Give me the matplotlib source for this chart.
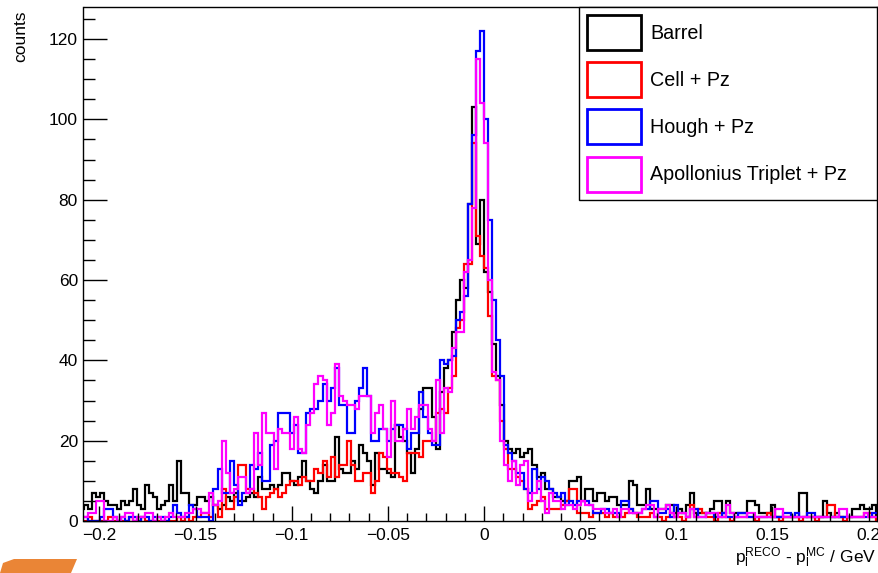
import numpy as np
import matplotlib
matplotlib.use("Agg")
import matplotlib.pyplot as plt
from matplotlib.patches import Patch, Polygon

plt.rcParams['font.family'] = ['Liberation Sans', 'DejaVu Sans']

# binning of the histograms
n_bins = 200
x_lo, x_hi = -0.21, 0.21

# counts per bin (bin 0 starts at -0.21)
barrel = [
    3, 4, 3, 7, 6, 7, 5, 4, 4, 3, 5, 4, 5, 8, 4, 3, 9, 7, 6, 3,
    4, 5, 9, 5, 15, 7, 7, 4, 4, 6, 6, 5, 6, 4, 3, 4, 6, 5, 7, 5,
    5, 6, 7, 6, 11, 8, 8, 9, 8, 9, 12, 12, 10, 9, 11, 15, 10, 8, 7, 10,
    14, 10, 10, 21, 13, 12, 12, 15, 13, 19, 17, 15, 9, 17, 13, 13, 12, 11, 24, 21,
    20, 17, 12, 18, 28, 33, 33, 26, 18, 32, 38, 40, 47, 55, 60, 58, 79, 103, 69, 80,
    62, 57, 44, 36, 29, 20, 18, 17, 18, 16, 17, 18, 14, 11, 12, 8, 8, 6, 6, 5,
    5, 10, 10, 11, 5, 8, 8, 5, 7, 7, 5, 6, 6, 4, 4, 4, 10, 9, 4, 4,
    8, 3, 3, 3, 3, 4, 4, 2, 3, 2, 4, 7, 2, 2, 2, 2, 3, 5, 5, 2,
    5, 2, 2, 2, 2, 5, 5, 4, 2, 2, 2, 4, 1, 1, 1, 1, 1, 1, 7, 7,
    1, 1, 1, 1, 5, 2, 1, 2, 1, 1, 1, 3, 3, 4, 3, 3, 4, 1, 2, 3,
]
cell_pz = [
    0, 0, 1, 0, 0, 0, 0, 1, 0, 0, 0, 0, 1, 0, 0, 1, 0, 0, 0, 0,
    0, 0, 0, 0, 1, 0, 1, 0, 1, 1, 2, 2, 1, 4, 1, 8, 3, 3, 6, 14,
    14, 8, 8, 7, 6, 3, 6, 7, 8, 6, 7, 9, 10, 10, 9, 11, 10, 10, 13, 12,
    15, 11, 16, 11, 14, 14, 20, 14, 10, 10, 12, 12, 7, 10, 17, 16, 13, 12, 12, 11,
    10, 17, 17, 17, 16, 20, 20, 20, 27, 28, 27, 33, 36, 48, 50, 64, 64, 94, 71, 66,
    63, 51, 36, 35, 25, 18, 13, 13, 11, 10, 8, 3, 4, 5, 6, 3, 3, 3, 3, 4,
    5, 8, 8, 2, 2, 2, 1, 2, 2, 2, 1, 2, 1, 1, 1, 2, 3, 2, 1, 1,
    1, 2, 1, 1, 0, 1, 2, 1, 1, 0, 1, 4, 1, 3, 2, 1, 1, 0, 2, 1,
    1, 0, 1, 1, 1, 1, 1, 0, 1, 1, 2, 1, 1, 0, 1, 1, 1, 1, 0, 1,
    1, 1, 0, 1, 1, 4, 4, 1, 1, 0, 1, 1, 1, 1, 2, 2, 1, 0, 1, 1,
]
hough_pz = [
    1, 1, 0, 0, 0, 1, 3, 3, 1, 0, 1, 0, 1, 1, 0, 1, 1, 0, 1, 1,
    1, 0, 1, 4, 2, 1, 1, 4, 3, 1, 1, 1, 0, 8, 13, 7, 7, 15, 9, 4,
    7, 7, 14, 13, 17, 10, 10, 19, 20, 27, 27, 27, 22, 24, 17, 17, 27, 28, 28, 30,
    34, 30, 33, 38, 29, 29, 22, 22, 30, 33, 38, 31, 20, 20, 23, 23, 20, 23, 24, 24,
    23, 18, 22, 22, 32, 26, 22, 19, 19, 40, 39, 40, 41, 50, 52, 56, 79, 96, 117, 122,
    100, 75, 55, 45, 36, 19, 17, 15, 12, 12, 8, 7, 13, 8, 11, 10, 8, 7, 6, 7,
    4, 5, 4, 5, 5, 5, 4, 2, 2, 3, 3, 2, 2, 2, 5, 5, 3, 2, 2, 3,
    3, 5, 5, 2, 2, 3, 1, 4, 2, 2, 1, 3, 3, 1, 1, 2, 2, 1, 1, 2,
    1, 1, 1, 2, 2, 1, 1, 1, 1, 1, 1, 1, 1, 1, 2, 2, 1, 2, 1, 1,
    2, 2, 1, 1, 1, 1, 1, 1, 1, 1, 1, 1, 1, 1, 1, 1, 2, 2, 1, 1,
]
apollonius_pz = [
    1, 1, 2, 2, 5, 5, 0, 0, 1, 0, 1, 2, 2, 0, 1, 1, 2, 2, 0, 1,
    0, 1, 2, 1, 1, 1, 2, 2, 3, 3, 2, 2, 7, 4, 5, 20, 12, 7, 8, 11,
    11, 7, 8, 22, 14, 27, 22, 22, 13, 23, 22, 22, 18, 26, 18, 17, 24, 27, 34, 36,
    35, 24, 27, 39, 31, 30, 29, 29, 28, 31, 31, 31, 22, 27, 29, 23, 16, 30, 20, 20,
    23, 28, 23, 26, 29, 29, 23, 20, 35, 22, 33, 32, 43, 47, 47, 62, 65, 78, 115, 104,
    94, 60, 37, 35, 20, 14, 10, 15, 9, 14, 15, 5, 7, 10, 5, 2, 7, 5, 5, 3,
    4, 4, 3, 4, 5, 4, 4, 3, 3, 3, 2, 2, 3, 1, 3, 3, 2, 2, 2, 3,
    4, 4, 1, 3, 3, 4, 2, 1, 2, 2, 1, 3, 1, 1, 1, 2, 2, 2, 1, 1,
    4, 2, 1, 1, 1, 2, 2, 1, 1, 1, 1, 1, 3, 3, 1, 1, 1, 1, 1, 1,
    1, 1, 1, 1, 1, 1, 1, 1, 3, 3, 1, 1, 1, 1, 2, 1, 1, 1, 1, 1,
]

series_names = ["Barrel", "Cell + Pz", "Hough + Pz", "Apollonius Triplet + Pz"]
series_colors = ["#000000", "#ff0000", "#0000ff", "#ff00ff"]

x_ticks = [-0.2, -0.15, -0.1, -0.05, 0, 0.05, 0.1, 0.15, 0.2]
x_tick_labels = ["\u22120.2", "\u22120.15", "\u22120.1", "\u22120.05", "0", "0.05", "0.1", "0.15", "0.2"]
y_ticks = [0, 20, 40, 60, 80, 100, 120]

W, H = 879, 573
fig = plt.figure(figsize=(W / 100, H / 100), dpi=100)

# axes frame in pixels (left, top, right, bottom)
fl, ft, fr, fb = 83.5, 6.5, 876.7, 521
ax = fig.add_axes([fl / W, (H - fb) / H, (fr - fl) / W, (fb - ft) / H])

edges = np.linspace(x_lo, x_hi, n_bins + 1)
for vals, c in zip([barrel, cell_pz, hough_pz, apollonius_pz], series_colors):
    ax.stairs(vals, edges, color=c, linewidth=1.6)

ax.set_xlim(-0.2083, 0.2042)
ax.set_ylim(0, 128.1)

ax.set_xticks(x_ticks)
ax.set_xticklabels(x_tick_labels)
ax.set_xticks(np.arange(-0.2, 0.2001, 0.01), minor=True)
ax.set_yticks(y_ticks)
ax.set_yticks(np.arange(0, 128, 5), minor=True)

ax.tick_params(axis='both', which='both', direction='in', top=False, right=False)
ax.tick_params(axis='x', which='major', length=11, width=1, pad=5, labelsize=12.5)
ax.tick_params(axis='x', which='minor', length=5.5, width=1)
ax.tick_params(axis='y', which='major', length=17, width=1, pad=4, labelsize=12.5)
ax.tick_params(axis='y', which='minor', length=8.5, width=1)
for s in ax.spines.values():
    s.set_linewidth(1.0)

# axis titles, ROOT style at the ends of the axes
fig.text(21 / W, 1 - 36 / H, "counts", rotation=90, ha='center', va='center', fontsize=12.5)
fig.text(876 / W, (H - 563) / H, r"$\mathregular{p_{l}^{RECO}}$ - $\mathregular{p_{l}^{MC}}$ / GeV",
         ha='right', va='baseline', fontsize=12.5)

# legend
handles = [Patch(facecolor='white', edgecolor=c, linewidth=2) for c in series_colors]
lx0, ly0, lx1, ly1 = 579, 6.7, 876.7, 200
leg = ax.legend(handles, series_names, loc='upper left',
                bbox_to_anchor=(lx0 / W, (H - ly1) / H, (lx1 - lx0) / W, (ly1 - ly0) / H),
                bbox_transform=fig.transFigure, mode='expand', borderaxespad=0,
                fontsize=14.2, handlelength=2.69, handleheight=2.36, labelspacing=0.61,
                handletextpad=0.5, borderpad=0.43, fancybox=False, framealpha=1,
                edgecolor='black')
leg.get_frame().set_linewidth(1.0)

# orange corner mark at the bottom left of the screenshot
corner = [(0, 573), (71, 573), (77, 559), (14, 559), (3, 563)]
fig.patches.append(Polygon([(x / W, (H - y) / H) for x, y in corner], closed=True,
                           facecolor='#ea8536', edgecolor='none', transform=fig.transFigure))

fig.savefig("out.png", dpi=100)
